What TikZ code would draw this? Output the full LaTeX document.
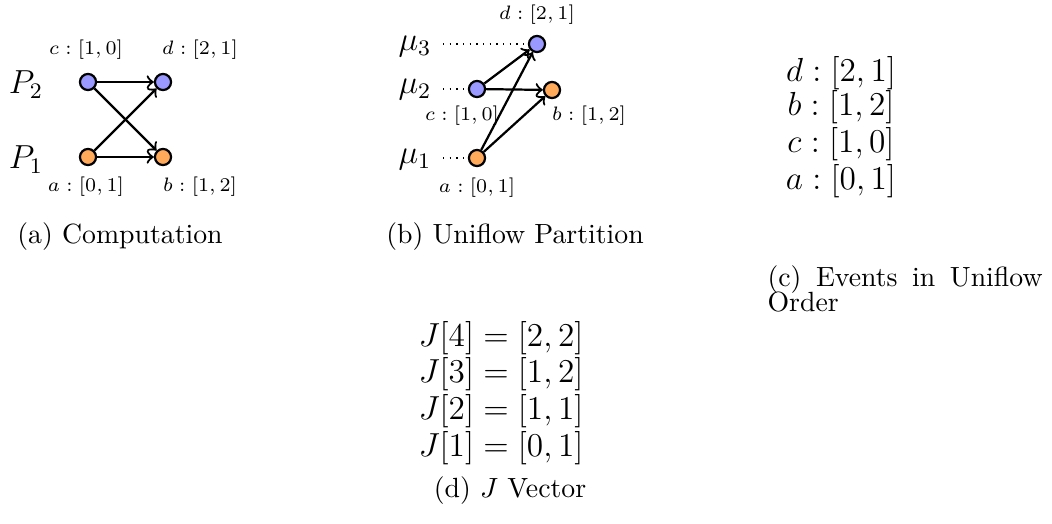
\documentclass[tikz,border=0pt]{standalone}
\usetikzlibrary{positioning}
\definecolor{evblue}{RGB}{153,153,255}
\definecolor{evorange}{RGB}{255,170,90}
\newcommand\tightcap{\fontsize{10}{9}\selectfont\lineskiplimit=-20pt\hyphenpenalty=10000\relax}

\begin{document}
\begin{tikzpicture}[x=0.36pt,y=-0.36pt,
  ev/.style={circle,draw,thick,fill=#1,minimum size=5.8pt,inner sep=0pt},
  msg/.style={->,thick},
  guide/.style={dotted,shorten <=3pt},
  lbl/.style={font=\scriptsize,inner sep=1pt},
  proc/.style={font=\large,inner sep=1pt},
  item/.style={font=\large,inner sep=0pt},
  subcap/.style={font=\normalsize,inner sep=0pt}]
\useasboundingbox (0,0) rectangle (1052,523);

% (a) computation
\node[proc] (p2) at (26,85) {$P_2$};
\node[proc] (p1) at (26,160) {$P_1$};
\node[ev=evblue]   (c) at (88,82)  {};
\node[ev=evblue]   (d) at (163,82) {};
\node[ev=evorange] (a) at (88,157) {};
\node[ev=evorange] (b) at (163,157) {};
\node[lbl] (lc) at (86,50)  {$c:[1,0]$};
\node[lbl] (ld) at (200,50) {$d:[2,1]$};
\node[lbl] (la) at (86,187) {$a:[0,1]$};
\node[lbl] (lb) at (200,187) {$b:[1,2]$};
\draw[msg] (c) -- (d);
\draw[msg] (a) -- (b);
\draw[msg] (c) -- (b);
\draw[msg] (a) -- (d);
\node[subcap] (capa) at (120,237) {(a) Computation};

% (b) uniflow partition
\node[proc] (mu3) at (415,47) {$\mu_3$};
\node[proc] (mu2) at (415,90) {$\mu_2$};
\node[proc] (mu1) at (415,160) {$\mu_1$};
\node[ev=evblue]   (bd) at (537,44) {};
\node[ev=evblue]   (bc) at (477,89) {};
\node[ev=evorange] (bb) at (552,90) {};
\node[ev=evorange] (ba) at (477,158) {};
\draw[guide] (mu3.east |- bd) -- (bd);
\draw[guide] (mu2.east |- bc) -- (bc);
\draw[guide] (mu1.east |- ba) -- (ba);
\node[lbl] (lbd) at (537,15)  {$d:[2,1]$};
\node[lbl] (lbc) at (462,116) {$c:[1,0]$};
\node[lbl] (lbb) at (589,116) {$b:[1,2]$};
\node[lbl] (lba) at (477,188) {$a:[0,1]$};
\draw[msg] (bc) -- (bd);
\draw[msg] (bc) -- (bb);
\draw[msg] (ba) -- (bd);
\draw[msg] (ba) -- (bb);
\node[subcap] (capb) at (515,237) {(b) Uniflow Partition};

% (c) events in uniflow order
\node[item] (ed) at (841,73)  {$d:[2,1]$};
\node[item] (eb) at (841,107) {$b:[1,2]$};
\node[item] (ec) at (841,144) {$c:[1,0]$};
\node[item] (ea) at (841,181) {$a:[0,1]$};
\node[subcap,font=\tightcap,anchor=north west,text width=99pt,align=justify] (capc) at (767,265) {(c) Events in Uniflow Order};

% (d) J vector
\node[item] (j4) at (501,338) {$J[4]=[2,2]$};
\node[item] (j3) at (501,374) {$J[3]=[1,2]$};
\node[item] (j2) at (501,411) {$J[2]=[1,1]$};
\node[item] (j1) at (501,448) {$J[1]=[0,1]$};
\node[subcap] (capd) at (510,491) {(d) $J$ Vector};
\end{tikzpicture}
\end{document}
